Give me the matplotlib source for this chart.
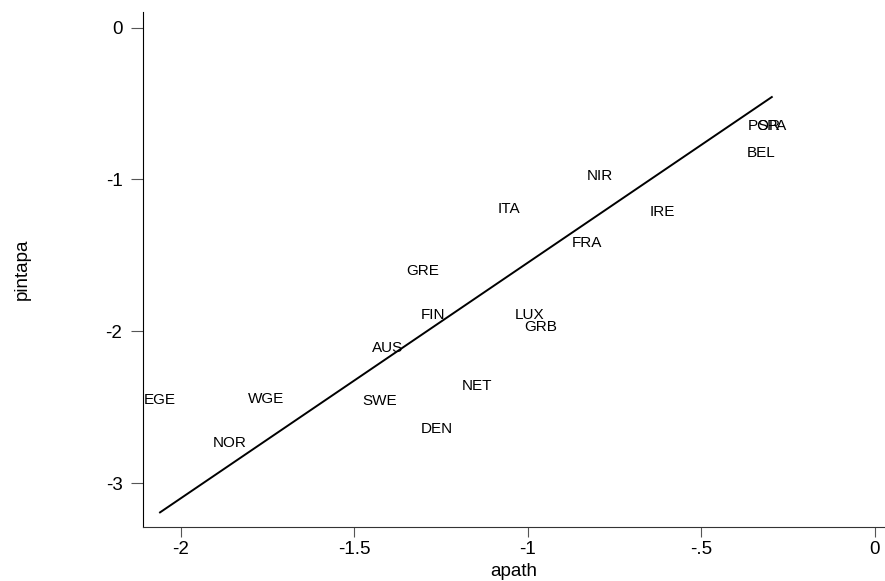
import numpy as np
import matplotlib.pyplot as plt

plt.rcParams['font.family'] = ['Liberation Sans', 'DejaVu Sans']

# country labels, positioned at (apath, pintapa)
countries = ["EGE", "WGE", "NOR", "SWE", "NET", "DEN", "FIN", "AUS", "LUX", "GRB",
             "GRE", "ITA", "NIR", "IRE", "FRA", "BEL", "POR", "SPA"]
apath = [-2.059, -1.755, -1.858, -1.427, -1.147, -1.263, -1.272, -1.405, -0.995, -0.962,
         -1.302, -1.054, -0.792, -0.613, -0.829, -0.327, -0.320, -0.297]
pintapa = [-2.455, -2.449, -2.738, -2.459, -2.363, -2.641, -1.895, -2.110, -1.890, -1.972,
           -1.604, -1.196, -0.978, -1.216, -1.420, -0.825, -0.649, -0.649]

# fitted line
slope = 1.553
intercept = 0.004

xticks = [-2, -1.5, -1, -0.5, 0]
xticklabels = ["-2", "-1.5", "-1", "-.5", "0"]
yticks = [0, -1, -2, -3]
yticklabels = ["0", "-1", "-2", "-3"]

fig = plt.figure(figsize=(8.85, 5.81), dpi=100)
ax = fig.add_axes([0.1612, 0.0929, 1.0 - 0.1612, 0.9799 - 0.0929])

for name, x, y in zip(countries, apath, pintapa):
    ax.text(x, y, name, ha='center', va='center', fontsize=11, color='black')

xs = np.array([min(apath), max(apath)])
ax.plot(xs, slope * xs + intercept, color='black', lw=1.4)

ax.set_xlim(-2.109, 0.029)
ax.set_ylim(-3.29, 0.105)
ax.set_xticks(xticks)
ax.set_xticklabels(xticklabels)
ax.set_yticks(yticks)
ax.set_yticklabels(yticklabels)
ax.tick_params(axis='x', length=7, width=0.8, color='#555555', labelsize=13.5, pad=3)
ax.tick_params(axis='y', length=8.6, width=0.8, color='#555555', labelsize=13.5, pad=6)

for s in ['top', 'right']:
    ax.spines[s].set_visible(False)
ax.spines['left'].set_color('black')
ax.spines['bottom'].set_color('#333333')

ax.set_xlabel("apath", fontsize=13.5, labelpad=4)
ax.set_ylabel("pintapa", fontsize=13.5, labelpad=54)

fig.savefig("out.png", dpi=100)
